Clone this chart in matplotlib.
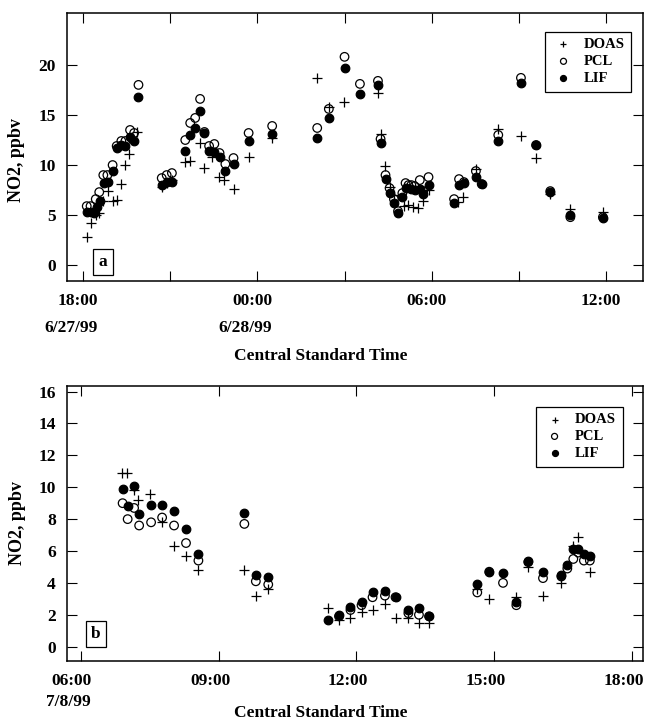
import matplotlib
matplotlib.use("Agg")
import matplotlib.pyplot as plt
import matplotlib.transforms as mtransforms

plt.rcParams["font.family"] = ["Liberation Serif", "DejaVu Serif"]
plt.rcParams["font.weight"] = "bold"
plt.rcParams["axes.labelweight"] = "bold"

# panel a: hours after 18:00 on 6/27/99
a_doas_t = [0.15, 0.27, 0.44, 0.56, 0.70, 0.87, 1.05, 1.16, 1.30, 1.45, 1.60, 1.87,
            2.71, 2.88, 3.06, 3.52, 3.67, 4.01, 4.17, 4.44, 4.67, 4.86, 5.18, 5.70,
            6.51, 8.06, 8.46, 8.98, 10.15, 10.24, 10.39, 10.55, 10.70, 11.05, 11.20,
            11.36, 11.53, 11.71, 11.89, 12.90, 13.09, 13.52, 14.29, 15.07, 15.59,
            16.08, 16.77, 17.89]
a_doas_v = [2.8, 4.2, 5.0, 5.2, 6.4, 7.4, 6.4, 6.5, 8.1, 10.0, 11.1, 13.3,
            7.8, 8.2, 8.5, 10.3, 10.4, 12.2, 9.7, 10.8, 8.8, 8.5, 7.6, 10.8,
            12.7, 18.7, 15.8, 16.3, 17.2, 13.1, 9.9, 7.8, 7.0, 5.9, 6.0,
            5.8, 5.7, 6.4, 7.5, 6.3, 6.8, 9.6, 13.6, 12.9, 10.7,
            7.1, 5.6, 5.3]

a_pcl_t = [0.13, 0.26, 0.44, 0.56, 0.70, 0.84, 1.02, 1.16, 1.32, 1.46, 1.62, 1.76, 1.91,
           2.71, 2.88, 3.06, 3.52, 3.69, 3.86, 4.03, 4.18, 4.34, 4.52, 4.70, 4.90, 5.18,
           5.70, 6.51, 8.06, 8.46, 9.00, 9.53, 10.15, 10.24, 10.41, 10.55, 10.70, 10.84,
           10.99, 11.10, 11.20, 11.30, 11.41, 11.59, 11.71, 11.89, 12.77, 12.94, 13.11,
           13.52, 13.72, 14.29, 15.07, 15.59, 16.08, 16.77, 17.89]
a_pcl_v = [5.9, 5.9, 6.6, 7.3, 9.0, 9.0, 10.0, 11.9, 12.4, 12.4, 13.5, 13.2, 18.0,
           8.7, 9.0, 9.2, 12.5, 14.2, 14.7, 16.6, 13.3, 11.9, 12.1, 11.2, 10.1, 10.7,
           13.2, 13.9, 13.7, 15.6, 20.8, 18.1, 18.4, 12.6, 9.0, 7.7, 6.6, 5.4,
           7.2, 8.2, 8.0, 8.0, 7.9, 8.5, 7.4, 8.8, 6.6, 8.6, 8.3,
           9.4, 8.1, 13.0, 18.7, 12.0, 7.4, 4.8, 4.8]

a_lif_t = [0.13, 0.26, 0.37, 0.47, 0.59, 0.72, 0.87, 1.02, 1.16, 1.31, 1.46, 1.62, 1.76, 1.91,
           2.71, 2.88, 3.06, 3.52, 3.69, 3.86, 4.03, 4.18, 4.34, 4.52, 4.70, 4.90, 5.18,
           5.70, 6.51, 8.06, 8.46, 9.00, 9.53, 10.15, 10.24, 10.41, 10.55, 10.70, 10.84,
           10.99, 11.10, 11.28, 11.41, 11.59, 11.71, 11.89, 12.77, 12.94, 13.11, 13.52,
           13.72, 14.29, 15.07, 15.59, 16.08, 16.77, 17.89]
a_lif_v = [5.3, 5.3, 5.2, 5.8, 6.4, 8.2, 8.3, 9.4, 11.7, 12.0, 11.9, 12.8, 12.4, 16.8,
           8.0, 8.3, 8.3, 11.4, 13.0, 13.7, 15.4, 13.2, 11.4, 11.3, 10.8, 9.4, 10.1,
           12.4, 13.1, 12.7, 14.7, 19.7, 17.1, 18.0, 12.2, 8.6, 7.2, 6.2, 5.2,
           6.8, 7.7, 7.6, 7.5, 7.6, 7.1, 8.0, 6.2, 8.0, 8.2, 8.8,
           8.1, 12.4, 18.2, 12.0, 7.3, 5.0, 4.7]

# panel b: hours after 06:00 on 7/8/99
b_doas_t = [0.89, 1.00, 1.15, 1.25, 1.51, 1.76, 2.03, 2.29, 2.56, 3.56, 3.81, 4.08,
            5.37, 5.61, 5.86, 6.11, 6.35, 6.62, 6.85, 7.13, 7.36, 7.58,
            8.63, 8.89, 9.48, 9.74, 10.06, 10.46, 10.72, 10.83, 11.08]
b_doas_v = [10.9, 10.9, 9.8, 9.2, 9.6, 7.8, 6.3, 5.7, 4.8, 4.8, 3.2, 3.6,
            2.4, 1.7, 1.8, 2.2, 2.3, 2.7, 1.8, 1.8, 1.5, 1.5,
            3.6, 3.0, 3.1, 5.0, 3.2, 4.0, 6.3, 6.9, 4.7]

b_pcl_t = [0.91, 1.02, 1.16, 1.27, 1.53, 1.77, 2.03, 2.29, 2.56, 3.56, 3.81, 4.08,
           5.62, 5.87, 6.11, 6.35, 6.62, 6.85, 7.13, 7.36, 7.58,
           8.63, 8.89, 9.19, 9.48, 9.74, 10.06, 10.46, 10.59, 10.72, 10.83, 10.95, 11.08]
b_pcl_v = [9.0, 8.0, 8.7, 7.6, 7.8, 8.1, 7.6, 6.5, 5.4, 7.7, 4.1, 3.9,
           1.9, 2.3, 2.6, 3.1, 3.2, 3.1, 2.1, 2.0, 1.9,
           3.4, 4.7, 4.0, 2.6, 5.3, 4.3, 4.4, 4.9, 5.5, 5.9, 5.4, 5.4]

b_lif_t = [0.91, 1.02, 1.16, 1.27, 1.53, 1.77, 2.03, 2.29, 2.56, 3.56, 3.81, 4.08,
           5.37, 5.62, 5.87, 6.11, 6.35, 6.62, 6.85, 7.13, 7.36, 7.58,
           8.63, 8.89, 9.19, 9.48, 9.74, 10.06, 10.46, 10.59, 10.72, 10.83, 10.95, 11.08]
b_lif_v = [9.9, 8.8, 10.1, 8.3, 8.9, 8.9, 8.5, 7.4, 5.8, 8.4, 4.5, 4.4,
           1.7, 2.0, 2.5, 2.8, 3.4, 3.5, 3.1, 2.3, 2.4, 1.9,
           3.9, 4.7, 4.6, 2.8, 5.4, 4.7, 4.5, 5.1, 6.1, 6.1, 5.8, 5.7]

a_ticks = [0, 6, 12, 18]
a_ticklabels = ["18:00\n6/27/99", "00:00\n6/28/99", "06:00", "12:00"]
a_minor = [3, 9, 15]
b_ticks = [0, 3, 6, 9, 12]
b_ticklabels = ["06:00\n7/8/99", "09:00", "12:00", "15:00", "18:00"]

fig = plt.figure(figsize=(6.45, 7.2), dpi=100)
ax1 = fig.add_axes([0.1034, 0.610, 0.8935, 0.3723])
ax2 = fig.add_axes([0.1039, 0.0824, 0.8925, 0.3819])


def draw(ax, doas, pcl, lif):
    ax.scatter(doas[0], doas[1], marker="+", s=44, c="black", linewidths=0.9,
               label="DOAS", zorder=3)
    ax.scatter(pcl[0], pcl[1], marker="o", s=38, facecolors="none",
               edgecolors="black", linewidths=0.9, label="PCL", zorder=4)
    ax.scatter(lif[0], lif[1], marker="o", s=38, c="black", linewidths=0.9,
               label="LIF", zorder=5)


def style(ax, ticks, labels, minor=None, spacing=1.85, shift=-0.05):
    for s in ax.spines.values():
        s.set_linewidth(1.1)
    ax.set_xticks(ticks)
    ax.set_xticklabels(labels, fontsize=12.5, fontweight="bold",
                       multialignment="right", linespacing=spacing)
    if minor:
        ax.set_xticks(minor, minor=True)
    ax.tick_params(which="both", direction="in", length=7, width=0.8,
                   top=True, right=True, labelsize=12.5, pad=9)
    ax.tick_params(axis="y", pad=8)
    for lab in ax.get_yticklabels():
        lab.set_fontweight("bold")
    for lab in ax.get_xticklabels():
        dx = -0.12 if "\n" in lab.get_text() else shift
        lab.set_transform(lab.get_transform() +
                          mtransforms.ScaledTranslation(dx, 0, fig.dpi_scale_trans))
    ax.set_ylabel("NO2, ppbv", fontsize=13, fontweight="bold")
    ax.set_xlabel("Central Standard Time", fontsize=12.5, fontweight="bold")


def add_legend(ax, anchor):
    leg = ax.legend(loc="upper right", bbox_to_anchor=anchor, borderaxespad=0,
                    fancybox=False, edgecolor="black", framealpha=1, markerscale=0.7,
                    prop={"weight": "bold", "size": 10.5}, handletextpad=0.6,
                    labelspacing=0.25, borderpad=0.45, handlelength=1.6)
    leg.get_frame().set_linewidth(0.9)


#Panel a
draw(ax1, (a_doas_t, a_doas_v), (a_pcl_t, a_pcl_v), (a_lif_t, a_lif_v))
ax1.set_xlim(-0.56, 19.27)
ax1.set_ylim(-1.55, 25.2)
ax1.set_yticks([0, 5, 10, 15, 20])
style(ax1, a_ticks, a_ticklabels, a_minor)
ax1.yaxis.set_label_coords(-0.072, 0.45)
ax1.xaxis.set_label_coords(0.44, -0.252)
ax1.text(0.063, 0.07, "a", transform=ax1.transAxes, fontsize=12.5, fontweight="bold",
         ha="center", va="center",
         bbox=dict(boxstyle="square,pad=0.3", fc="white", ec="black", lw=0.9))
add_legend(ax1, (0.98, 0.93))

#Panel b
draw(ax2, (b_doas_t, b_doas_v), (b_pcl_t, b_pcl_v), (b_lif_t, b_lif_v))
ax2.set_xlim(-0.30, 12.23)
ax2.set_ylim(-0.88, 16.37)
ax2.set_yticks(range(0, 17, 2))
style(ax2, b_ticks, b_ticklabels, spacing=1.4, shift=-0.085)
ax2.yaxis.set_label_coords(-0.072, 0.5)
ax2.xaxis.set_label_coords(0.44, -0.16)
ax2.text(0.05, 0.097, "b", transform=ax2.transAxes, fontsize=12.5, fontweight="bold",
         ha="center", va="center",
         bbox=dict(boxstyle="square,pad=0.3", fc="white", ec="black", lw=0.9))
add_legend(ax2, (0.965, 0.924))

plt.savefig("out.png", dpi=100)
